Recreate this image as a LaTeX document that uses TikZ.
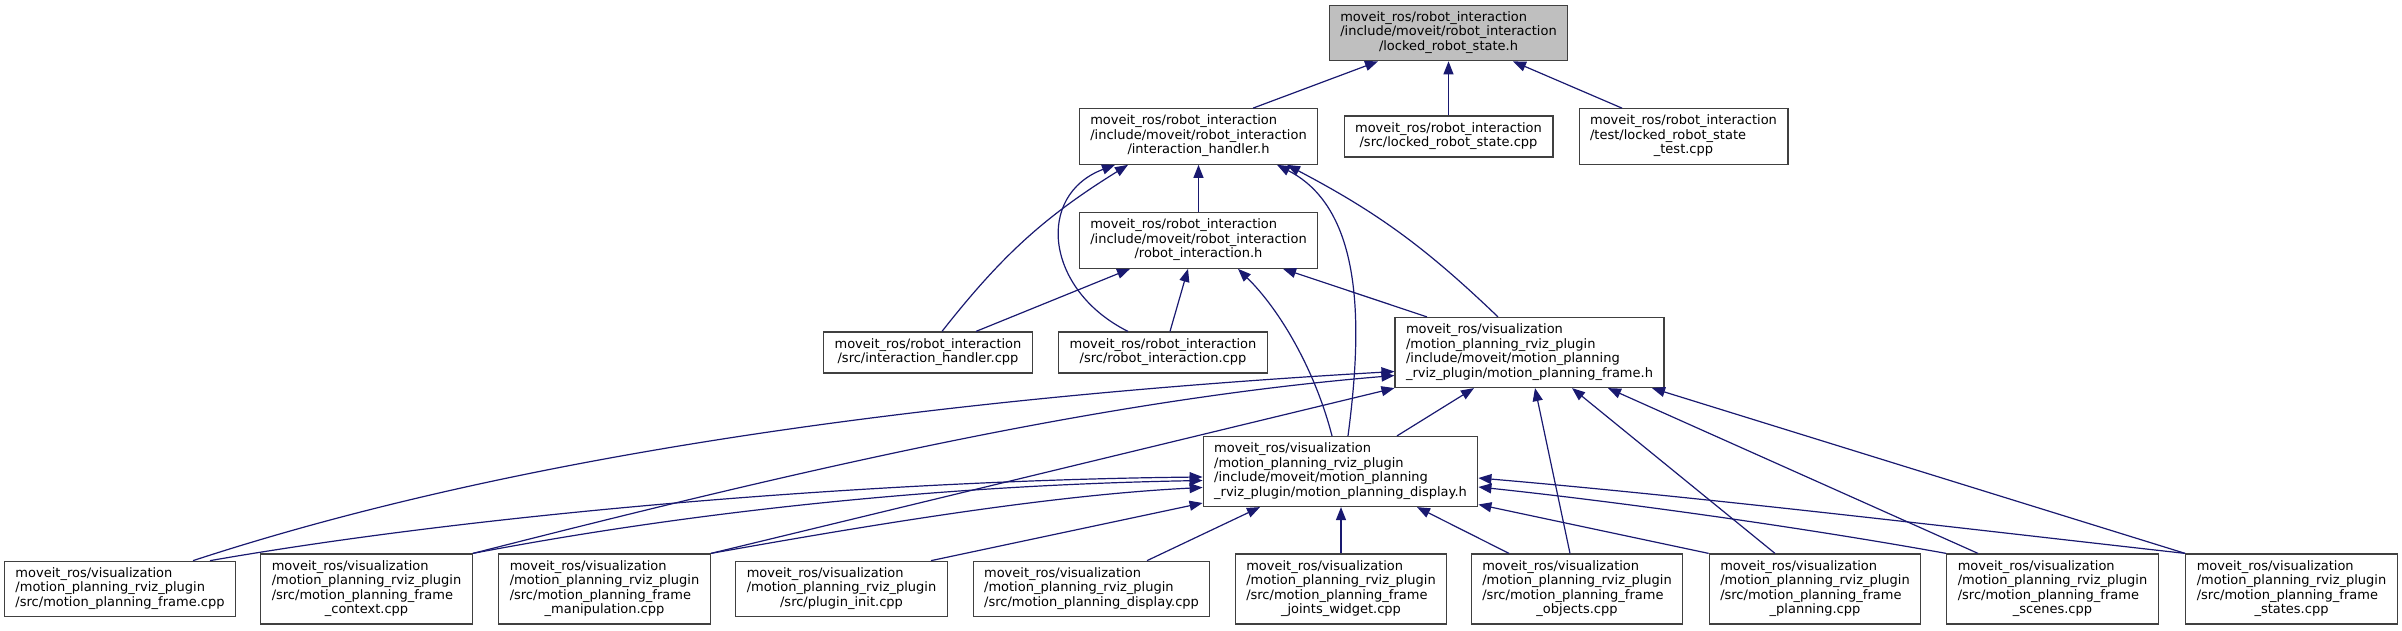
\documentclass[tikz,border=0pt]{standalone}
\usepackage{fontspec}
\setmainfont{DejaVu Sans}
\usetikzlibrary{arrows.meta}
\definecolor{edgeblue}{HTML}{191970}
\definecolor{rootgray}{HTML}{BFBFBF}
\newcommand{\flines}[1]{\begin{tabular}{@{}l@{}}#1\end{tabular}}
\newcommand{\lastln}[1]{\multicolumn{1}{@{}c@{}}{#1}}
\newcommand{\vizpre}{moveit\_ros/visualization\\/motion\_planning\_rviz\_plugin}

\begin{document}
\begin{tikzpicture}[x=1pt, y=-1pt,
  incbox/.style={draw=black!75, line width=1.2pt, fill=white, inner xsep=11pt, inner ysep=6pt,
    font=\fontsize{13pt}{14.5pt}\selectfont},
  rootbox/.style={incbox, fill=rootgray},
  incedge/.style={draw=edgeblue, line width=1.2pt, -{Triangle[length=13pt,width=10pt]}}]
  \useasboundingbox (0,0) rectangle (2402,631);
  % headers and sources
  \node[rootbox] (lockedh) at (1448.5,33) {\flines{moveit\_ros/robot\_interaction\\/include/moveit/robot\_interaction\\\lastln{/locked\_robot\_state.h}}};
  \node[incbox] (handlerh) at (1198.5,136.5) {\flines{moveit\_ros/robot\_interaction\\/include/moveit/robot\_interaction\\\lastln{/interaction\_handler.h}}};
  \node[incbox] (lockedcpp) at (1448.5,136.5) {\flines{moveit\_ros/robot\_interaction\\\lastln{/src/locked\_robot\_state.cpp}}};
  \node[incbox] (lockedtest) at (1683.5,136.5) {\flines{moveit\_ros/robot\_interaction\\/test/locked\_robot\_state\\\lastln{\_test.cpp}}};
  \node[incbox] (robinth) at (1198.5,240.5) {\flines{moveit\_ros/robot\_interaction\\/include/moveit/robot\_interaction\\\lastln{/robot\_interaction.h}}};
  \node[incbox] (handlercpp) at (928,352.5) {\flines{moveit\_ros/robot\_interaction\\\lastln{/src/interaction\_handler.cpp}}};
  \node[incbox] (robintcpp) at (1163,352.5) {\flines{moveit\_ros/robot\_interaction\\\lastln{/src/robot\_interaction.cpp}}};
  \node[incbox] (frameh) at (1529.5,352.5) {\flines{\vizpre\\/include/moveit/motion\_planning\\\lastln{\_rviz\_plugin/motion\_planning\_frame.h}}};
  \node[incbox] (displayh) at (1340.5,471.5) {\flines{\vizpre\\/include/moveit/motion\_planning\\\lastln{\_rviz\_plugin/motion\_planning\_display.h}}};
  \node[incbox] (framecpp) at (120,589) {\flines{\vizpre\\\lastln{/src/motion\_planning\_frame.cpp}}};
  \node[incbox] (contextcpp) at (366.5,589) {\flines{\vizpre\\/src/motion\_planning\_frame\\\lastln{\_context.cpp}}};
  \node[incbox] (manipcpp) at (604.5,589) {\flines{\vizpre\\/src/motion\_planning\_frame\\\lastln{\_manipulation.cpp}}};
  \node[incbox] (plugininit) at (841.5,589) {\flines{\vizpre\\\lastln{/src/plugin\_init.cpp}}};
  \node[incbox] (displaycpp) at (1091.5,589) {\flines{\vizpre\\\lastln{/src/motion\_planning\_display.cpp}}};
  \node[incbox] (jointscpp) at (1341,589) {\flines{\vizpre\\/src/motion\_planning\_frame\\\lastln{\_joints\_widget.cpp}}};
  \node[incbox] (objectscpp) at (1577,589) {\flines{\vizpre\\/src/motion\_planning\_frame\\\lastln{\_objects.cpp}}};
  \node[incbox] (planningcpp) at (1815,589) {\flines{\vizpre\\/src/motion\_planning\_frame\\\lastln{\_planning.cpp}}};
  \node[incbox] (scenescpp) at (2052.5,589) {\flines{\vizpre\\/src/motion\_planning\_frame\\\lastln{\_scenes.cpp}}};
  \node[incbox] (statescpp) at (2291.5,589) {\flines{\vizpre\\/src/motion\_planning\_frame\\\lastln{\_states.cpp}}};
  % included-by edges
  \draw[incedge] ([xshift=54.5pt]handlerh.north) -- ([xshift=-70.5pt]lockedh.south);
  \draw[incedge] (lockedcpp.north) -- (lockedh.south);
  \draw[incedge] ([xshift=-61.5pt]lockedtest.north) -- ([xshift=64.5pt]lockedh.south);
  \draw[incedge] (robinth.north) -- (handlerh.south);
  \draw[incedge] ([xshift=14pt]handlercpp.north) to[bend left=10] ([xshift=-70.5pt]handlerh.south);
  \draw[incedge] ([xshift=-35pt]robintcpp.north) .. controls (1045,290) and (1035,195) .. ([xshift=-83.5pt]handlerh.south);
  \draw[incedge] ([xshift=7.5pt]displayh.north) .. controls (1362,330) and (1365,210) .. ([xshift=78.5pt]handlerh.south);
  \draw[incedge] ([xshift=-31.5pt]frameh.north) to[bend right=8] ([xshift=88.5pt]handlerh.south);
  \draw[incedge] ([xshift=48pt]handlercpp.north) -- ([xshift=-68.5pt]robinth.south);
  \draw[incedge] ([xshift=7pt]robintcpp.north) -- ([xshift=-10.5pt]robinth.south);
  \draw[incedge] ([xshift=-102.5pt]frameh.north) -- ([xshift=84.5pt]robinth.south);
  \draw[incedge] ([xshift=-8.5pt]displayh.north) .. controls (1315,370) and (1280,310) .. ([xshift=39.5pt]robinth.south);
  \draw[incedge] ([xshift=56.5pt]displayh.north) -- ([xshift=-55.5pt]frameh.south);
  \draw[incedge] ([xshift=73pt]framecpp.north) .. controls (500,460) and (900,400) .. ([yshift=-19pt]frameh.west);
  \draw[incedge] (contextcpp.north east) .. controls (800,470) and (1100,400) .. ([yshift=-23pt]frameh.west);
  \draw[incedge] (manipcpp.north east) -- (frameh.south west);
  \draw[incedge] ([xshift=90pt]framecpp.north) .. controls (500,510) and (900,480) .. ([yshift=-5.5pt]displayh.west);
  \draw[incedge] (contextcpp.north east) .. controls (700,510) and (950,485) .. ([yshift=-9pt]displayh.west);
  \draw[incedge] (manipcpp.north east) .. controls (870,525) and (1050,495) .. ([yshift=-16pt]displayh.west);
  \draw[incedge] ([xshift=89.5pt]plugininit.north) -- ([yshift=-31.5pt]displayh.west);
  \draw[incedge] ([xshift=55.5pt]displaycpp.north) -- ([xshift=-80.5pt]displayh.south);
  \draw[incedge] (jointscpp.north) -- (jointscpp.north |- displayh.south);
  \draw[incedge] ([xshift=-68pt]objectscpp.north) -- ([xshift=76.5pt]displayh.south);
  \draw[incedge] ([xshift=-7pt]objectscpp.north) -- ([xshift=5.5pt]frameh.south);
  \draw[incedge] ([xshift=-40pt]planningcpp.north) -- ([xshift=42.5pt]frameh.south);
  \draw[incedge] ([xshift=-74.5pt]scenescpp.north) -- ([xshift=78.5pt]frameh.south);
  \draw[incedge] (statescpp.north west) -- ([xshift=122.5pt]frameh.south);
  \draw[incedge] (planningcpp.north west) -- ([yshift=-33pt]displayh.east);
  \draw[incedge] (scenescpp.north west) .. controls (1800,527) and (1620,502) .. ([yshift=-15.5pt]displayh.east);
  \draw[incedge] (statescpp.north west) .. controls (1950,527) and (1700,497) .. ([yshift=-6.5pt]displayh.east);
\end{tikzpicture}
\end{document}
